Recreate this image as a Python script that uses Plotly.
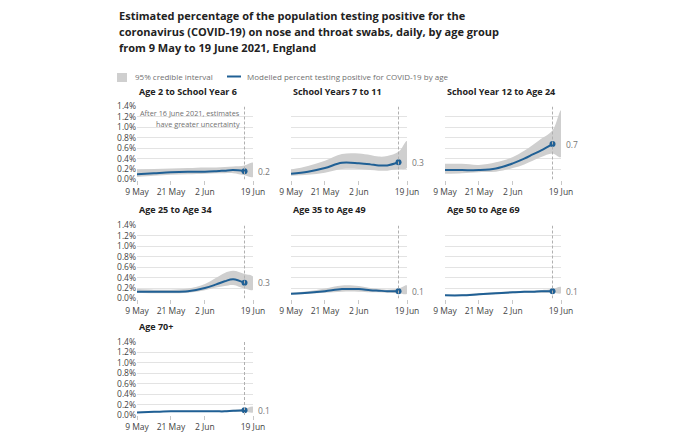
import plotly.graph_objects as go

# ---------------- data ----------------
band_dates = ["2021-05-09", "2021-05-15", "2021-05-21", "2021-05-27", "2021-06-02",
              "2021-06-06", "2021-06-09", "2021-06-12", "2021-06-16", "2021-06-19"]
line_dates = band_dates[:-1]

groups = ["Age 2 to School Year 6", "School Years 7 to 11", "School Year 12 to Age 24",
          "Age 25 to Age 34", "Age 35 to Age 49", "Age 50 to Age 69", "Age 70+"]

age2_sy6_est = [0.10, 0.12, 0.14, 0.15, 0.15, 0.16, 0.17, 0.18, 0.16]
age2_sy6_upper = [0.19, 0.20, 0.21, 0.22, 0.23, 0.23, 0.24, 0.25, 0.27, 0.32]
age2_sy6_lower = [0.05, 0.07, 0.09, 0.10, 0.11, 0.12, 0.12, 0.12, 0.08, 0.05]

sy7_11_est = [0.11, 0.15, 0.22, 0.32, 0.31, 0.29, 0.27, 0.27, 0.33]
sy7_11_upper = [0.19, 0.26, 0.36, 0.49, 0.50, 0.47, 0.44, 0.45, 0.53, 0.74]
sy7_11_lower = [0.07, 0.09, 0.13, 0.20, 0.20, 0.18, 0.17, 0.17, 0.20, 0.22]

sy12_24_est = [0.18, 0.18, 0.18, 0.21, 0.31, 0.40, 0.48, 0.56, 0.68]
sy12_24_upper = [0.30, 0.30, 0.28, 0.33, 0.43, 0.55, 0.66, 0.78, 0.94, 1.33]
sy12_24_lower = [0.11, 0.12, 0.14, 0.15, 0.22, 0.29, 0.36, 0.43, 0.50, 0.43]

age25_34_est = [0.13, 0.13, 0.13, 0.14, 0.20, 0.27, 0.33, 0.37, 0.30]
age25_34_upper = [0.18, 0.17, 0.17, 0.19, 0.28, 0.40, 0.49, 0.53, 0.47, 0.42]
age25_34_lower = [0.11, 0.10, 0.10, 0.11, 0.16, 0.21, 0.24, 0.26, 0.19, 0.17]

age35_49_est = [0.09, 0.11, 0.14, 0.18, 0.18, 0.16, 0.15, 0.14, 0.14]
age35_49_upper = [0.11, 0.14, 0.19, 0.25, 0.24, 0.20, 0.18, 0.17, 0.19, 0.25]
age35_49_lower = [0.07, 0.09, 0.11, 0.13, 0.13, 0.12, 0.12, 0.11, 0.10, 0.09]

age50_69_est = [0.06, 0.06, 0.08, 0.10, 0.12, 0.13, 0.13, 0.14, 0.14]
age50_69_upper = [0.07, 0.08, 0.10, 0.12, 0.14, 0.15, 0.15, 0.16, 0.18, 0.22]
age50_69_lower = [0.05, 0.05, 0.06, 0.08, 0.10, 0.11, 0.11, 0.11, 0.11, 0.10]

age70_est = [0.05, 0.06, 0.07, 0.07, 0.07, 0.07, 0.07, 0.08, 0.09]
age70_upper = [0.06, 0.07, 0.08, 0.08, 0.08, 0.08, 0.09, 0.10, 0.12, 0.16]
age70_lower = [0.04, 0.05, 0.06, 0.06, 0.06, 0.06, 0.06, 0.06, 0.06, 0.05]

estimates = [age2_sy6_est, sy7_11_est, sy12_24_est, age25_34_est, age35_49_est, age50_69_est, age70_est]
uppers = [age2_sy6_upper, sy7_11_upper, sy12_24_upper, age25_34_upper, age35_49_upper, age50_69_upper, age70_upper]
lowers = [age2_sy6_lower, sy7_11_lower, sy12_24_lower, age25_34_lower, age35_49_lower, age50_69_lower, age70_lower]

x_tickvals = ["2021-05-09", "2021-05-21", "2021-06-02", "2021-06-19"]
x_ticktext = ["9 May", "21 May", "2 Jun", "19 Jun"]
y_tickvals = [0, 0.2, 0.4, 0.6, 0.8, 1.0, 1.2, 1.4]
y_ticktext = ["0.0%", "0.2%", "0.4%", "0.6%", "0.8%", "1.0%", "1.2%", "1.4%"]
cutoff_date = "2021-06-16"

title_lines = ["Estimated percentage of the population testing positive for the",
               "coronavirus (COVID-19) on nose and throat swabs, daily, by age group",
               "from 9 May to 19 June 2021, England"]

# ---------------- layout geometry (page pixels) ----------------
OX, OY = 8, 8            # page body margin
W, H = 680 - OX, 446 - OY


def px(x):
    return (x - OX) / W


def py(y):
    return 1 - (y - OY) / H


FONT = "Open Sans"
BLUE = "#206095"
BAND = "#cfcfcf"
cols = [(137, 253), (291, 407), (445, 561)]
rows = [(106.5, 179.5), (225.5, 298.5), (342, 415)]
title_y = [91, 209, 326]

fig = go.Figure()
layout = dict(width=W, height=H, margin=dict(l=0, r=0, t=0, b=0, pad=0, autoexpand=False),
              paper_bgcolor="white", plot_bgcolor="white", showlegend=False,
              font=dict(family=FONT, color="#444"))
annotations = []
shapes = []

for i, name in enumerate(groups):
    r, c = divmod(i, 3)
    n = "" if i == 0 else str(i + 1)
    xa, ya = "x" + n, "y" + n
    x0, x1 = cols[c]
    y0, y1 = rows[r]
    layout["xaxis" + n] = dict(
        domain=[px(x0), px(x1)], anchor=ya, type="date", automargin=False,
        range=["2021-05-09", "2021-06-19"], tickvals=x_tickvals, ticktext=x_ticktext,
        ticks="outside", ticklen=4, tickcolor="#c8c8c8", showgrid=False, showline=False,
        zeroline=False, tickfont=dict(size=8.5, color="#444", family=FONT), fixedrange=True)
    layout["yaxis" + n] = dict(
        domain=[py(y1), py(y0)], anchor=xa, range=[0, 1.4], automargin=False,
        tickvals=y_tickvals, ticktext=y_ticktext, showgrid=True, gridcolor="#e3e3e3",
        gridwidth=1, zeroline=False, showline=False, ticks="",
        showticklabels=(c == 0), tickfont=dict(size=8.5, color="#444", family=FONT),
        fixedrange=True)

    up, lo, est = uppers[i], lowers[i], estimates[i]
    fig.add_trace(go.Scatter(
        x=band_dates + band_dates[::-1], y=up + lo[::-1], fill="toself",
        fillcolor=BAND, line=dict(width=0, shape="spline"), mode="lines",
        hoverinfo="skip", xaxis=xa, yaxis=ya, name="95% credible interval"))
    fig.add_trace(go.Scatter(
        x=line_dates, y=est, mode="lines", line=dict(color=BLUE, width=2, shape="spline"),
        xaxis=xa, yaxis=ya, name="Modelled percent testing positive for COVID-19 by age"))
    fig.add_trace(go.Scatter(
        x=[line_dates[-1]], y=[est[-1]], mode="markers",
        marker=dict(color=BLUE, size=6), xaxis=xa, yaxis=ya, hoverinfo="skip"))

    shapes.append(dict(type="line", xref=xa, yref=ya, x0=cutoff_date, x1=cutoff_date,
                       y0=0, y1=1.4, line=dict(color="#b0b0b0", width=1, dash="3px,2px"),
                       layer="above"))
    annotations.append(dict(xref=xa, yref=ya, x="2021-06-19", y=est[-1], xanchor="left",
                            yanchor="middle", xshift=3, showarrow=False,
                            text=f"{est[-1]:.1f}",
                            font=dict(size=8.5, color="#777", family=FONT)))
    annotations.append(dict(xref="paper", yref="paper", x=px(x0), y=py(title_y[r]),
                            xanchor="left", yanchor="middle", showarrow=False,
                            text=f"<b>{name}</b>",
                            font=dict(size=9, color="#222", family=FONT)))

# uncertainty note in first panel
annotations.append(dict(xref="x", yref="y", x=cutoff_date, y=1.27, xanchor="right",
                        yanchor="middle", xshift=-3, showarrow=False,
                        text="After 16 June 2021, estimates",
                        font=dict(size=7.3, color="#707070", family=FONT)))
annotations.append(dict(xref="x", yref="y", x=cutoff_date, y=1.07, xanchor="right",
                        yanchor="middle", xshift=-3, showarrow=False,
                        text="have greater uncertainty",
                        font=dict(size=7.3, color="#707070", family=FONT)))

# main title
for line, ty in zip(title_lines, [15.5, 31.5, 47]):
    annotations.append(dict(xref="paper", yref="paper", x=px(117), y=py(ty),
                            xanchor="left", yanchor="middle", showarrow=False,
                            text=f"<b>{line}</b>",
                            font=dict(size=11, color="#222", family=FONT)))

# legend
shapes.append(dict(type="rect", xref="paper", yref="paper", x0=px(117), x1=px(127),
                   y0=py(82), y1=py(73), fillcolor=BAND, line=dict(width=0)))
annotations.append(dict(xref="paper", yref="paper", x=px(133), y=py(77),
                        xanchor="left", yanchor="middle", showarrow=False,
                        text="95% credible interval",
                        font=dict(size=8, color="#707070", family=FONT)))
shapes.append(dict(type="line", xref="paper", yref="paper", x0=px(227), x1=px(241),
                   y0=py(76.5), y1=py(76.5), line=dict(color=BLUE, width=2)))
annotations.append(dict(xref="paper", yref="paper", x=px(245), y=py(77),
                        xanchor="left", yanchor="middle", showarrow=False,
                        text="Modelled percent testing positive for COVID-19 by age",
                        font=dict(size=8, color="#707070", family=FONT)))

layout["annotations"] = annotations
layout["shapes"] = shapes
fig.update_layout(**layout)
fig.write_html("out.html", config={"displayModeBar": False})
